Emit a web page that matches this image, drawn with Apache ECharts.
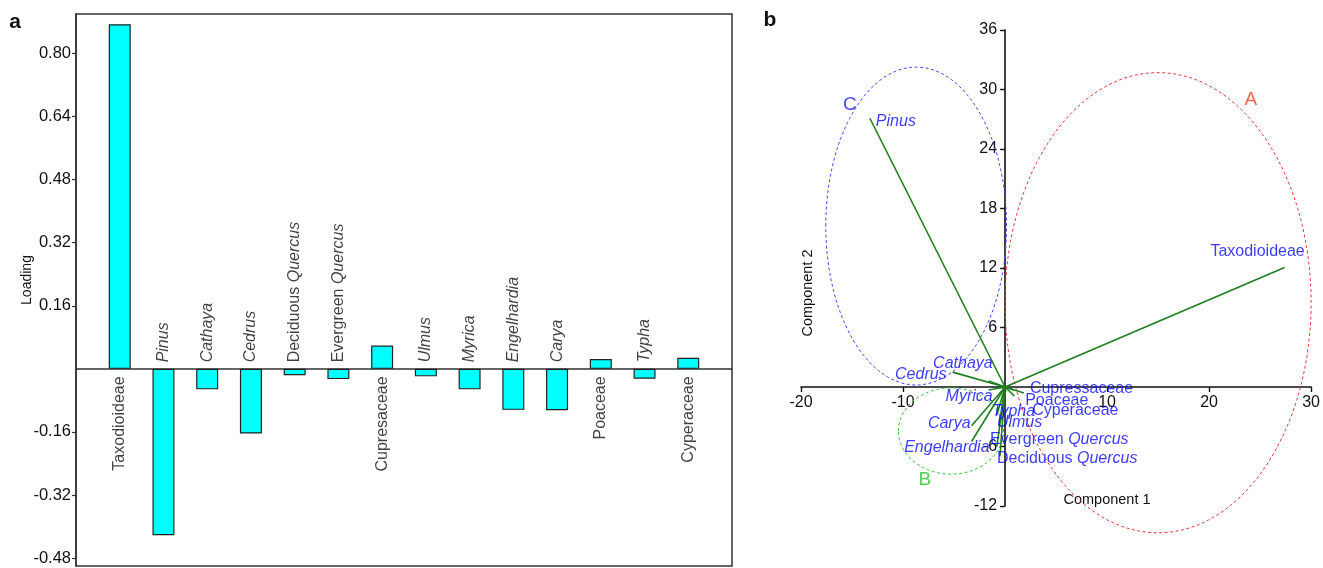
<!DOCTYPE html>
<html><head><meta charset="utf-8">
<script src="https://cdn.jsdelivr.net/npm/echarts@6/dist/echarts.min.js"></script>
<style>html,body{margin:0;padding:0;background:#fff}#c{width:1323px;height:568px}</style>
</head><body><div id="c"></div>
<script>
// ---- Panel a data ----
const taxa = ['Taxodioideae','Pinus','Cathaya','Cedrus','Deciduous Quercus','Evergreen Quercus','Cupresaceae','Ulmus','Myrica','Engelhardia','Carya','Poaceae','Typha','Cyperaceae'];
const loadings = [0.874,-0.422,-0.052,-0.164,-0.016,-0.026,0.059,-0.019,-0.052,-0.104,-0.105,0.025,-0.025,0.028];
const loadingTicks = [-0.48,-0.32,-0.16,0.16,0.32,0.48,0.64,0.80];

// ---- Panel b data ----
const vecNames = ['Taxodioideae','Pinus','Cathaya','Cedrus','Myrica','Carya','Engelhardia','Typha','Ulmus','Evergreen Quercus','Deciduous Quercus','Cupressaceae','Poaceae','Cyperaceae'];
const comp1 = [27.4,-13.25,-1.6,-5.14,-1.6,-3.28,-3.28,-0.8,-0.6,-0.8,-0.5,1.85,0.8,0.9];
const comp2 = [12.05,27.1,0.6,1.5,-0.3,-3.9,-5.5,-2.8,-4.0,-6.0,-7.0,-0.6,-0.3,-0.9];
const comp1Ticks = [-20,-10,0,10,20,30];
const comp2Ticks = [-12,-6,0,6,12,18,24,30,36];

const groupNames = ['A','B','C'];
const groupCx = [15.0,-5.3,-8.71];
const groupCy = [8.5,-4.44,16.23];
const groupRx = [15.0,5.15,8.86];
const groupRy = [23.2,4.35,16.03];

// ---- layout / style (not data) ----
const FONT = '"Liberation Sans", Arial, Helvetica, sans-serif';
const italicWords = ['Pinus','Cathaya','Cedrus','Quercus','Ulmus','Myrica','Engelhardia','Carya','Typha'];
const vecLabelLayout = [
  ['center',-27,-16],['left',6,3],['right',4,-18],['right',-6,2],['right',4,7],['right',-1,-2],
  ['right',18,6],['left',-5,-3],['left',-2,-4],['left',-7,-7],['left',-3,2],['left',6,-4],
  ['left',12,11],['left',18,15]
];
const groupLabelPos = [[24.1,29.0],[-7.85,-9.4],[-15.2,28.5]];
const groupStroke = ['#e83b3b','#3cc43c','#4a4af5'];
const groupText = ['#ff3a10','#22c422','#1a1aff'];
const BLUE = '#0a0aff';

function richName(name){
  return name.split(' ').map(w => italicWords.includes(w) ? '{i|'+w+'}' : '{n|'+w+'}').join('{n| }');
}

const chart = echarts.init(document.getElementById('c'), null, {renderer:'canvas'});

const option = {
  animation:false,
  backgroundColor:'#fff',
  textStyle:{fontFamily:FONT},
  grid:[
    {left:76, top:14, width:656, height:552, show:true, borderColor:'#333', borderWidth:1.5, backgroundColor:'transparent'},
    {left:801, top:30, width:513, height:476}
  ],
  xAxis:[
    {gridIndex:0, type:'value', min:0, max:15,
     axisLine:{show:true, onZero:true, lineStyle:{color:'#333', width:1.5}},
     axisTick:{show:false}, axisLabel:{show:false}, splitLine:{show:false}},
    {gridIndex:1, type:'value', min:comp1Ticks[0], max:comp1Ticks[comp1Ticks.length-1], interval:10,
     axisLine:{show:true, onZero:false, lineStyle:{color:'#111', width:1.6}},
     axisTick:{show:true, length:5, lineStyle:{color:'#111', width:1.4}},
     axisLabel:{fontSize:16, color:'#111', margin:8, fontFamily:FONT, formatter:v => v===0 ? '' : String(v)},
     splitLine:{show:false}}
  ],
  yAxis:[
    {gridIndex:0, type:'value', min:-0.5, max:0.9,
     axisLine:{show:true, onZero:false, lineStyle:{color:'#333', width:1.5}},
     axisTick:{show:true, customValues:loadingTicks, length:4, lineStyle:{color:'#333', width:1.2}},
     axisLabel:{customValues:loadingTicks, fontSize:16.5, color:'#111', margin:5, fontFamily:FONT, formatter:v => Number(v).toFixed(2)},
     splitLine:{show:false}},
    {gridIndex:1, type:'value', min:comp2Ticks[0], max:comp2Ticks[comp2Ticks.length-1], interval:6,
     axisLine:{show:true, onZero:false, lineStyle:{color:'#111', width:1.6}},
     axisTick:{show:true, length:5, lineStyle:{color:'#111', width:1.4}},
     axisLabel:{fontSize:16, color:'#111', margin:8, fontFamily:FONT, formatter:v => v===0 ? '' : String(v)},
     splitLine:{show:false}}
  ],
  series:[
    {type:'bar', xAxisIndex:0, yAxisIndex:0, barWidth:22,
     data: loadings.map((v,i)=>[i+1, v]),
     itemStyle:{color:'#00ffff', borderColor:'#222', borderWidth:1.2}, z:2},
    {type:'scatter', xAxisIndex:0, yAxisIndex:0, symbolSize:1, itemStyle:{color:'transparent'},
     data: loadings.map((v,i)=>({value:[i+1,0], name:taxa[i],
       label: v>=0 ? {position:'bottom', align:'right', distance:7} : {position:'top', align:'left', distance:6}})),
     label:{show:true, rotate:90, verticalAlign:'middle', color:'#111', fontSize:16, fontFamily:FONT,
       formatter:p => richName(p.name),
       rich:{n:{fontSize:16, fontFamily:FONT, color:'#111'}, i:{fontSize:16, fontFamily:FONT, fontStyle:'italic', color:'#111'}}},
     z:5, silent:true},
    // ellipses
    {type:'custom', xAxisIndex:1, yAxisIndex:1, clip:false,
     data: groupNames.map((n,i)=>[groupCx[i], groupCy[i], groupRx[i], groupRy[i], i]),
     encode:{x:0, y:1},
     renderItem:(params, api) => {
       const c = api.coord([api.value(0), api.value(1)]);
       const s = api.size([api.value(2), api.value(3)]);
       const k = api.value(4);
       return {type:'ellipse', shape:{cx:c[0], cy:c[1], rx:s[0], ry:s[1]},
         style:{fill:'none', stroke:groupStroke[k], lineWidth:1, lineDash:[3,2.5]}};
     }, z:1, silent:true},
    // vectors
    {type:'custom', xAxisIndex:1, yAxisIndex:1, clip:false,
     data: comp1.map((x,i)=>[x, comp2[i]]),
     encode:{x:0, y:1},
     renderItem:(params, api) => {
       const o = api.coord([0,0]);
       const e = api.coord([api.value(0), api.value(1)]);
       return {type:'line', shape:{x1:o[0], y1:o[1], x2:e[0], y2:e[1]},
         style:{stroke:'#1f7f1f', lineWidth:1.6}};
     }, z:3, silent:true},
    // vector labels
    {type:'scatter', xAxisIndex:1, yAxisIndex:1, symbolSize:1, itemStyle:{color:'transparent'},
     data: comp1.map((x,i)=>({value:[x, comp2[i]], name:vecNames[i],
       label:{align:vecLabelLayout[i][0], offset:[vecLabelLayout[i][1], vecLabelLayout[i][2]]}})),
     label:{show:true, position:'inside', verticalAlign:'middle', fontSize:16, color:BLUE, fontFamily:FONT,
       formatter:p => richName(p.name),
       rich:{n:{fontSize:16, fontFamily:FONT, color:BLUE}, i:{fontSize:16, fontFamily:FONT, fontStyle:'italic', color:BLUE}}},
     z:6, silent:true},
    // group letters
    {type:'scatter', xAxisIndex:1, yAxisIndex:1, symbolSize:1, itemStyle:{color:'transparent'},
     data: groupNames.map((n,i)=>({value:groupLabelPos[i], name:n, label:{color:groupText[i]}})),
     label:{show:true, position:'inside', align:'center', verticalAlign:'middle', fontSize:19, fontFamily:FONT, formatter:p=>p.name},
     z:6, silent:true}
  ],
  graphic:[
    {type:'text', x:15, y:22, style:{text:'a', font:'bold 21px '+FONT, fill:'#111', align:'center', verticalAlign:'middle'}},
    {type:'text', x:770, y:20, style:{text:'b', font:'bold 21px '+FONT, fill:'#111', align:'center', verticalAlign:'middle'}},
    {type:'text', x:27, y:280, rotation:Math.PI/2, style:{text:'Loading', font:'14px '+FONT, fill:'#111', align:'center', verticalAlign:'middle'}},
    {type:'text', x:1107, y:500, style:{text:'Component 1', font:'14.5px '+FONT, fill:'#111', align:'center', verticalAlign:'middle'}},
    {type:'text', x:808, y:293, rotation:Math.PI/2, style:{text:'Component 2', font:'14.5px '+FONT, fill:'#111', align:'center', verticalAlign:'middle'}}
  ]
};
chart.setOption(option);

// Move panel b axes so they cross at the origin (positions from the library's own scales)
const zeroX = chart.convertToPixel({xAxisIndex:1}, 0);
const leftX = chart.convertToPixel({xAxisIndex:1}, comp1Ticks[0]);
const zeroY = chart.convertToPixel({yAxisIndex:1}, 0);
const bottomY = chart.convertToPixel({yAxisIndex:1}, comp2Ticks[0]);
chart.setOption({
  xAxis:[{}, {offset: -(bottomY - zeroY)}],
  yAxis:[{}, {offset: -(zeroX - leftX)}]
});
</script>
</body></html>
